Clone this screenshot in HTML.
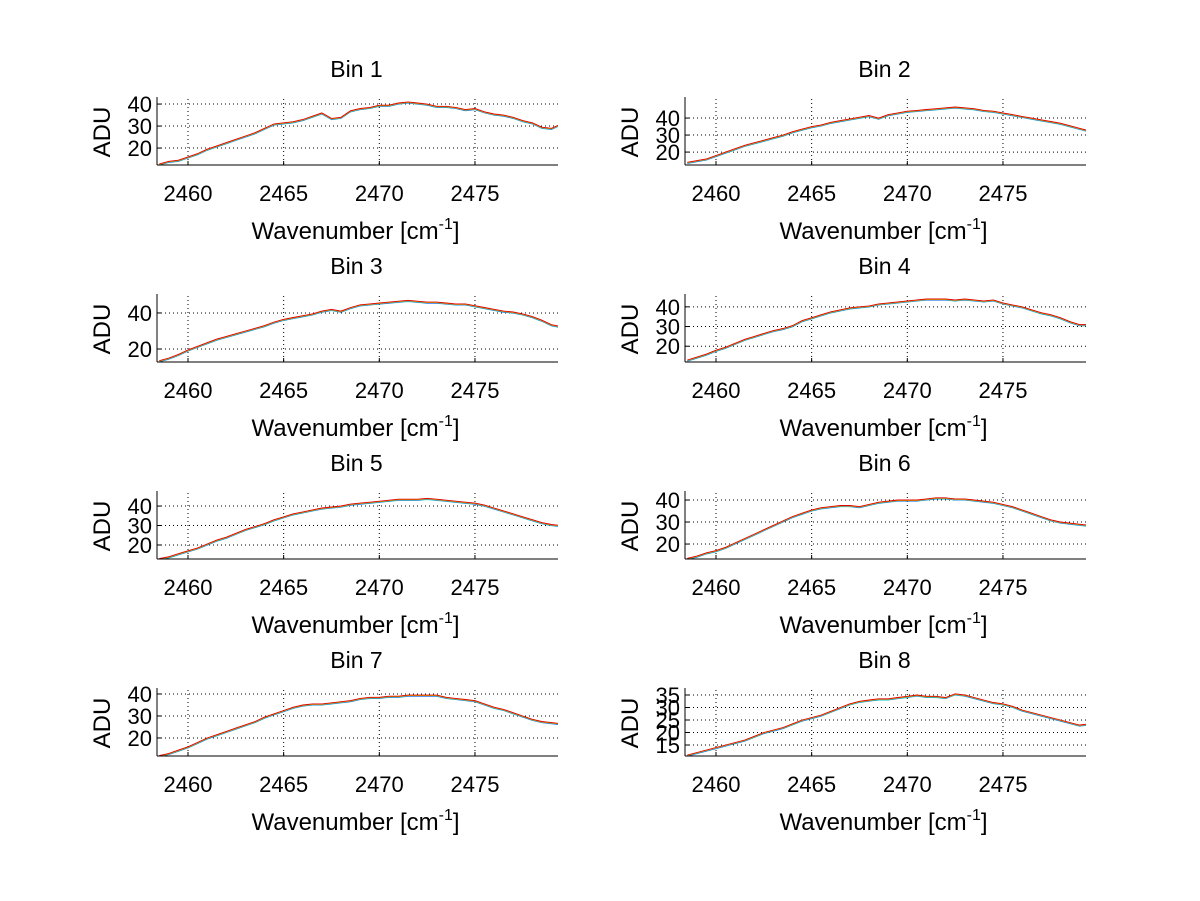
<!DOCTYPE html>
<html><head><meta charset="utf-8"><style>
html,body{margin:0;padding:0;background:#fff;}
svg{display:block;font-family:"Liberation Sans",sans-serif;}
</style></head><body>
<svg id="fig" width="1200" height="901" viewBox="0 0 1200 901" xmlns="http://www.w3.org/2000/svg">
<rect width="1200" height="901" fill="#fff"/>
</svg>
<script>
const wavenumbers=[2458.5,2459,2459.5,2460,2460.5,2461,2461.5,2462,2462.5,2463,2463.5,2464,2464.5,2465,2465.5,2466,2466.5,2467,2467.5,2468,2468.5,2469,2469.5,2470,2470.5,2471,2471.5,2472,2472.5,2473,2473.5,2474,2474.5,2475,2475.5,2476,2476.5,2477,2477.5,2478,2478.5,2479,2479.5];
const bin1=[12.8,14,14.5,16,17.5,19.5,21,22.5,24,25.5,27,29,31,31.5,32,33,34.5,36,33.5,34,37,38,38.5,39.5,39.5,40.5,41,40.5,40,39,39,38.5,37.5,38,36.5,35.5,35,34,32.5,31.5,29.5,29,31];
const bin2=[14,15,16,18,20,22,24,25.5,27,28.5,30,32,33.5,35,36,37.5,38.5,39.5,40.5,41.5,40,42,43,44,44.5,45,45.5,46,46.5,46,45.5,44.5,44,43,42,41,40,39,38,37,35.5,34,32.5];
const bin3=[13.5,15,17,19.5,21.5,23.5,25.5,27,28.5,30,31.5,33,35,36.5,37.5,38.5,39.5,41,42,41,43,44.5,45,45.5,46,46.5,47,46.5,46,46,45.5,45,45,44,43,42,41,40.5,39.5,38,36,33.5,32.5];
const bin4=[13,14.5,16,18,19.5,21.5,23.5,25,26.5,28,29,30.5,33,34.5,36,37.5,38.5,39.5,40,40.5,41.5,42,42.5,43,43.5,44,44,44,43.5,44,43.5,43,43.5,42,41,40,38.5,37,36,34.5,32.5,31,31];
const bin5=[13,14,15.5,17,18.5,20.5,22.5,24,26,28,29.5,31,33,34.5,36,37,38,39,39.5,40,41,41.5,42,42.5,43,43.5,43.5,43.5,44,43.5,43,42.5,42,41.5,40.5,39,37.5,36,34.5,33,31.5,30.5,30];
const bin6=[13.5,14.5,16,17,18.5,20.5,22.5,24.5,26.5,28.5,30.5,32.5,34,35.5,36.5,37,37.5,37.5,37,38,39,39.5,40,40,40,40.5,41,41,40.5,40.5,40,39.5,39,38,37,35.5,34,32.5,31,30,29.5,29,28.5];
const bin7=[12,13,14.5,16,18,20,21.5,23,24.5,26,27.5,29.5,31,32.5,34,35,35.5,35.5,36,36.5,37,38,38.5,38.5,39,39,39.5,39.5,39.5,39.5,38.5,38,37.5,37,35.5,34,33,31.5,30,28.5,27.5,27,26.5];
const bin8=[11,12,13,14,15,16,17,18.5,20,21,22,23.5,25,26,27,28.5,30,31.5,32.5,33,33.5,33.5,34,34.5,35,34.5,34.5,34,35.5,35,34,33,32,31.5,30.5,29,28,27,26,25,24,23,23.5];
const binTitles=["Bin 1","Bin 2","Bin 3","Bin 4","Bin 5","Bin 6","Bin 7","Bin 8"];
const xTicks=[2460,2465,2470,2475];
const yTicksStd=[20,30,40];
const yTicks3=[20,40];
const yTicks8=[15,20,25,30,35];
const yLims=[[12.3,42.3],[12.4,51.2],[12.8,49.4],[12,45.5],[12.8,46.7],[13.2,43.2],[11.8,41.8],[10.6,37]];
const xLim=[2458.38,2479.34];

const NS="http://www.w3.org/2000/svg";
const svg=document.getElementById('fig');
function mk(tag,attrs,parent){const e=document.createElementNS(NS,tag);for(const k in attrs)e.setAttribute(k,attrs[k]);(parent||svg).appendChild(e);return e;}
const series=[bin1,bin2,bin3,bin4,bin5,bin6,bin7,bin8];
const yTickSets=[yTicksStd,yTicksStd,yTicks3,yTicksStd,yTicksStd,yTicksStd,yTicksStd,yTicks8];
const W=401,H=66;
series.forEach((vals,i)=>{
  const col=i%2,row=Math.floor(i/2);
  const x0=col?685:157, y0=99+row*197;
  const g=mk('g',{});
  
  
  const xs=v=>x0+(v-xLim[0])/(xLim[1]-xLim[0])*W;
  const ys=v=>y0+H-(v-yLims[i][0])/(yLims[i][1]-yLims[i][0])*H;
  const cp=mk('clipPath',{id:'cp'+i},g);mk('rect',{x:x0,y:y0,width:W,height:H},cp);
  xTicks.forEach(t=>{const X=xs(t);
    const l=mk('line',{x1:X,x2:X,y1:y0,y2:y0+H,stroke:'#000','stroke-width':1,'stroke-dasharray':'1,3'},g);
    
    mk('line',{x1:X,x2:X,y1:y0+H,y2:y0+H-4,stroke:'#000'},g);
    const tx=mk('text',{x:X,y:y0+H+36,'font-size':22,'text-anchor':'middle'},g);tx.textContent=t;
    
  });
  yTickSets[i].forEach(t=>{const Y=ys(t);
    const l=mk('line',{x1:x0,x2:x0+W,y1:Y,y2:Y,stroke:'#000','stroke-width':1,'stroke-dasharray':'1,3'},g);
    
    mk('line',{x1:x0,x2:x0+4,y1:Y,y2:Y,stroke:'#000'},g);
    const tx=mk('text',{x:x0-5,y:Y+8,'font-size':22,'text-anchor':'end'},g);tx.textContent=t;
    
  });
  const cols=[['#00c8c8',1.2],['#3050ff',0.9],['#d0d000',0.5],['#e00000',0]];
  cols.forEach(([c,off])=>{
    const d=vals.map((v,k)=>(k?'L':'M')+xs(wavenumbers[k]).toFixed(1)+','+(ys(v)+off).toFixed(1)).join('');
    const p=mk('path',{d:d,fill:'none',stroke:c,'stroke-width':0.9,'clip-path':'url(#cp'+i+')'},g);
    
  });
  mk('line',{x1:x0,x2:x0,y1:y0-2,y2:y0+H,stroke:'#000'},g);
  mk('line',{x1:x0,x2:x0+W,y1:y0+H,y2:y0+H,stroke:'#000'},g);
  const tt=mk('text',{x:x0+W/2-1,y:y0-22,'font-size':23,'text-anchor':'middle'},g);tt.textContent=binTitles[i];
  
  const yl=mk('text',{x:0,y:0,'font-size':24,'text-anchor':'middle',transform:`translate(${x0-47},${y0+H/2}) rotate(-90)`},g);yl.textContent='ADU';
  
  const xl=mk('text',{x:x0+W/2-2,y:y0+H+74,'font-size':24,'text-anchor':'middle'},g);
  
  xl.appendChild(document.createTextNode('Wavenumber [cm'));
  const sp=mk('tspan',{dy:-10,'font-size':16},xl);sp.textContent='-1';
  const sp2=mk('tspan',{dy:10},xl);sp2.textContent=']';
});
</script>
</body></html>
